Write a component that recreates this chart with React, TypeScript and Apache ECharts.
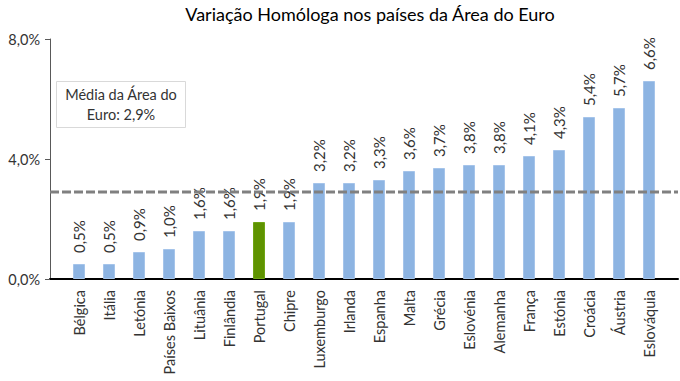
import React, { useEffect, useRef } from "react";
import * as echarts from "echarts";

const categories = [
  "Bélgica", "Itália", "Letónia", "Países Baixos", "Lituânia", "Finlândia", "Portugal",
  "Chipre", "Luxemburgo", "Irlanda", "Espanha", "Malta", "Grécia", "Eslovénia",
  "Alemanha", "França", "Estónia", "Croácia", "Áustria", "Eslováquia",
];
const values = [0.5, 0.5, 0.9, 1.0, 1.6, 1.6, 1.9, 1.9, 3.2, 3.2, 3.3, 3.6, 3.7, 3.8, 3.8, 4.1, 4.3, 5.4, 5.7, 6.6];
const highlight = "Portugal";
const euroAverage = 2.9;
const yTicks = [0, 4, 8];

const FONT = "Lato";
const TEXT = "#333333";
const fmt = (v: number) => v.toFixed(1).replace(".", ",") + "%";

export default function App() {
  const ref = useRef<HTMLDivElement>(null);
  useEffect(() => {
    if (!ref.current) return;
    const chart = echarts.init(ref.current, undefined, { renderer: "svg" });
    const top = 39;
    const bottom = 102;
    chart.setOption({
      animation: false,
      textStyle: { fontFamily: FONT },
      title: {
        text: "Variação Homóloga nos países da Área do Euro",
        left: 365,
        textAlign: "center",
        top: 0,
        textStyle: { fontFamily: FONT, fontSize: 18, fontWeight: "normal", color: "#000" },
      },
      grid: [
        { left: 50, right: 2, top, bottom },
        { left: 64, right: 16, top, bottom },
      ],
      xAxis: [
        {
          gridIndex: 0,
          type: "value",
          min: 0,
          max: 1,
          axisLine: { show: true, onZero: true, lineStyle: { color: "#000", width: 2 } },
          axisTick: { show: false },
          axisLabel: { show: false },
          splitLine: { show: false },
        },
        {
          gridIndex: 1,
          type: "category",
          data: categories,
          axisLine: { show: false },
          axisTick: { show: false },
          axisLabel: {
            interval: 0,
            rotate: 90,
            margin: 11,
            fontFamily: FONT,
            fontSize: 14.5,
            color: TEXT,
          },
        },
      ],
      yAxis: [
        {
          gridIndex: 0,
          type: "value",
          min: yTicks[0],
          max: yTicks[yTicks.length - 1],
          interval: 4,
          axisLine: { show: true, lineStyle: { color: "#595959", width: 1 } },
          axisTick: { show: true, length: 5, lineStyle: { color: "#595959" } },
          axisLabel: { formatter: (v: number) => fmt(v), fontFamily: FONT, fontSize: 14.5, color: TEXT, margin: 10 },
          splitLine: { show: false },
        },
        {
          gridIndex: 1,
          type: "value",
          min: yTicks[0],
          max: yTicks[yTicks.length - 1],
          show: false,
        },
      ],
      series: [
        {
          type: "bar",
          xAxisIndex: 1,
          yAxisIndex: 1,
          barWidth: 12,
          data: values.map((v, i) => ({
            value: v,
            itemStyle: {
              color: categories[i] === highlight ? "#5F9300" : "#8DB4E2",
              borderColor: categories[i] === highlight ? "#6FA514" : "#A5C4EA",
              borderWidth: 1,
            },
          })),
          label: {
            show: true,
            position: "top",
            rotate: 90,
            align: "left",
            verticalAlign: "middle",
            distance: 11,
            formatter: (p: any) => fmt(p.value),
            fontFamily: FONT,
            fontSize: 15,
            color: TEXT,
          },
          z: 2,
        },
        {
          type: "line",
          name: "Média da Área do Euro",
          xAxisIndex: 0,
          yAxisIndex: 0,
          data: [[0, euroAverage], [1, euroAverage]],
          showSymbol: false,
          symbol: "none",
          lineStyle: { color: "#808080", width: 3, type: [9, 3] },
          z: 5,
        },
      ],
      graphic: [
        {
          type: "group",
          left: 56,
          top: 81,
          children: [
            {
              type: "rect",
              shape: { x: 0, y: 0, width: 129, height: 46 },
              style: { fill: "#fff", stroke: "#D9D9D9", lineWidth: 1 },
            },
            {
              type: "text",
              x: 64.5,
              y: 23,
              style: {
                text: "Média da Área do\nEuro: 2,9%",
                fontFamily: FONT,
                fontSize: 14.5,
                lineHeight: 20,
                fill: TEXT,
                align: "center",
                verticalAlign: "middle",
              },
            },
          ],
        },
      ],
    });
    return () => chart.dispose();
  }, []);
  return <div ref={ref} style={{ width: 680, height: 381, position: "absolute", left: 0, top: 0 }} />;
}
